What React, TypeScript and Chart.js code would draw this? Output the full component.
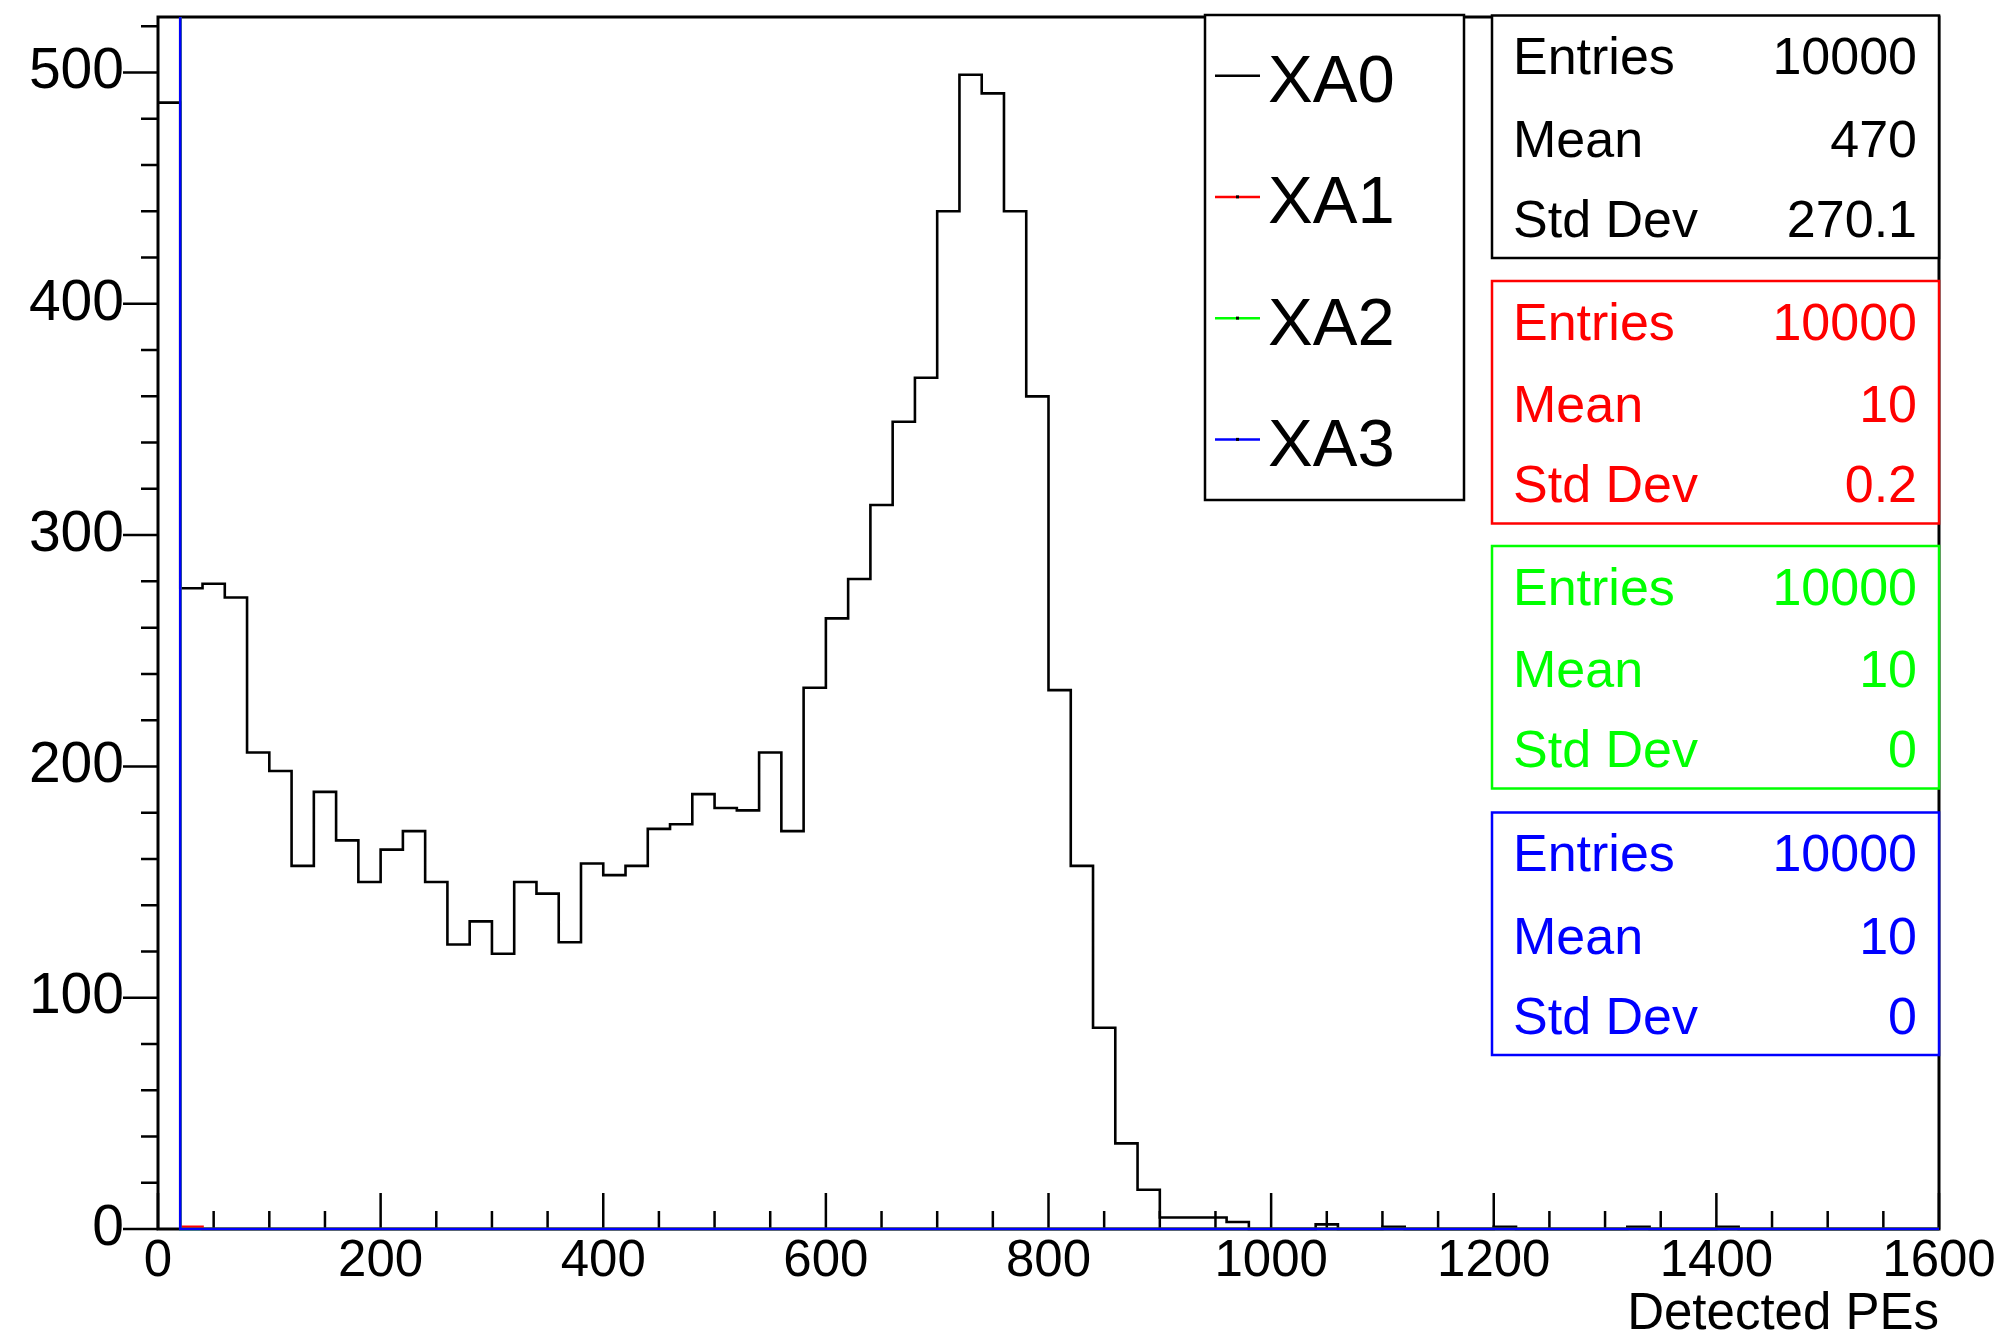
import React, { useEffect, useRef } from "react";
import { Chart, registerables } from "chart.js";

Chart.register(...registerables);

// ---- axis ranges / ticks ----
const X_MIN = 0;
const X_MAX = 1600;
const BIN_WIDTH = 20;
const Y_MIN = 0;
const Y_MAX = 524;
const X_MAJOR_STEP = 200;
const X_MINOR_STEP = 50;
const Y_MAJOR_STEP = 100;
const Y_MINOR_STEP = 20;
const X_TITLE = "Detected PEs";

// ---- series ----
const SERIES_NAMES = ["XA0", "XA1", "XA2", "XA3"];
const SERIES_COLORS = ["#000000", "#ff0000", "#00ff00", "#0000ff"];

// counts per 20-wide bin, from 0 to 1600 (80 bins)
const XA0_COUNTS = [
  487, 277, 279, 273, 206, 198, 157, 189, 168, 150,
  164, 172, 150, 123, 133, 119, 150, 145, 124, 158,
  153, 157, 173, 175, 188, 182, 181, 206, 172, 234,
  264, 281, 313, 349, 368, 440, 499, 491, 440, 360,
  233, 157, 87, 37, 17, 5, 5, 5, 3, 0,
  0, 0, 2, 0, 0, 1, 0, 0, 0, 0,
  1, 0, 0, 0, 0, 0, 1, 0, 0, 0,
  1, 0, 0, 0, 0, 0, 0, 0, 0, 0,
];
const XA1_COUNTS = [
  9999, 1, 0, 0, 0, 0, 0, 0, 0, 0,
  0, 0, 0, 0, 0, 0, 0, 0, 0, 0,
  0, 0, 0, 0, 0, 0, 0, 0, 0, 0,
  0, 0, 0, 0, 0, 0, 0, 0, 0, 0,
  0, 0, 0, 0, 0, 0, 0, 0, 0, 0,
  0, 0, 0, 0, 0, 0, 0, 0, 0, 0,
  0, 0, 0, 0, 0, 0, 0, 0, 0, 0,
  0, 0, 0, 0, 0, 0, 0, 0, 0, 0,
];
const XA2_COUNTS = [
  10000, 0, 0, 0, 0, 0, 0, 0, 0, 0,
  0, 0, 0, 0, 0, 0, 0, 0, 0, 0,
  0, 0, 0, 0, 0, 0, 0, 0, 0, 0,
  0, 0, 0, 0, 0, 0, 0, 0, 0, 0,
  0, 0, 0, 0, 0, 0, 0, 0, 0, 0,
  0, 0, 0, 0, 0, 0, 0, 0, 0, 0,
  0, 0, 0, 0, 0, 0, 0, 0, 0, 0,
  0, 0, 0, 0, 0, 0, 0, 0, 0, 0,
];
const XA3_COUNTS = [
  10000, 0, 0, 0, 0, 0, 0, 0, 0, 0,
  0, 0, 0, 0, 0, 0, 0, 0, 0, 0,
  0, 0, 0, 0, 0, 0, 0, 0, 0, 0,
  0, 0, 0, 0, 0, 0, 0, 0, 0, 0,
  0, 0, 0, 0, 0, 0, 0, 0, 0, 0,
  0, 0, 0, 0, 0, 0, 0, 0, 0, 0,
  0, 0, 0, 0, 0, 0, 0, 0, 0, 0,
  0, 0, 0, 0, 0, 0, 0, 0, 0, 0,
];

// ---- statistics boxes ----
const STAT_LABELS = ["Entries", "Mean", "Std Dev"];
const XA0_STATS = ["10000", "470", "270.1"];
const XA1_STATS = ["10000", "10", "0.2"];
const XA2_STATS = ["10000", "10", "0"];
const XA3_STATS = ["10000", "10", "0"];

const FONT = '"Liberation Sans", Arial, Helvetica, sans-serif';

function histPoints(counts: number[]) {
  const pts = counts.map((c, i) => ({ x: X_MIN + i * BIN_WIDTH, y: c }));
  pts.push({ x: X_MAX, y: counts[counts.length - 1] });
  return pts;
}

const frameAndTicks = {
  id: "rootFrame",
  beforeDatasetsDraw(chart: any) {
    const { ctx, chartArea: a } = chart;
    const xs = chart.scales.x;
    const ys = chart.scales.y;
    ctx.save();
    ctx.strokeStyle = "#000";
    ctx.lineWidth = 3;
    ctx.strokeRect(a.left, a.top, a.right - a.left, a.bottom - a.top);
    ctx.lineWidth = 2.5;
    ctx.beginPath();
    for (let v = X_MIN; v <= X_MAX; v += X_MINOR_STEP) {
      const px = xs.getPixelForValue(v);
      const len = v % X_MAJOR_STEP === 0 ? 36 : 18;
      ctx.moveTo(px, a.bottom);
      ctx.lineTo(px, a.bottom - len);
    }
    for (let v = Y_MIN; v <= Y_MAX; v += Y_MINOR_STEP) {
      const py = ys.getPixelForValue(v);
      const len = v % Y_MAJOR_STEP === 0 ? 35 : 17;
      ctx.moveTo(a.left, py);
      ctx.lineTo(a.left - len, py);
    }
    ctx.stroke();
    ctx.restore();
  },
  afterDraw(chart: any) {
    const { ctx } = chart;
    ctx.save();
    // legend
    const lg = { left: 1205, top: 15, right: 1464, bottom: 500 };
    ctx.fillStyle = "#fff";
    ctx.fillRect(lg.left, lg.top, lg.right - lg.left, lg.bottom - lg.top);
    ctx.strokeStyle = "#000";
    ctx.lineWidth = 2.5;
    ctx.strokeRect(lg.left, lg.top, lg.right - lg.left, lg.bottom - lg.top);
    const rowH = (lg.bottom - lg.top) / SERIES_NAMES.length;
    ctx.font = `67px ${FONT}`;
    ctx.textAlign = "left";
    ctx.textBaseline = "alphabetic";
    SERIES_NAMES.forEach((name, i) => {
      const cy = lg.top + rowH * (i + 0.5);
      ctx.strokeStyle = SERIES_COLORS[i];
      ctx.lineWidth = 2.5;
      ctx.beginPath();
      ctx.moveTo(1215, cy);
      ctx.lineTo(1260, cy);
      ctx.stroke();
      if (i > 0) {
        ctx.fillStyle = "#000";
        ctx.fillRect(1236, cy - 1.5, 3, 3);
      }
      ctx.fillStyle = "#000";
      ctx.fillText(name, 1268, cy + 26.5);
    });
    // stats boxes
    const allStats = [XA0_STATS, XA1_STATS, XA2_STATS, XA3_STATS];
    const boxTops = [15.5, 281, 546, 812.5];
    const boxH = 242.5;
    const boxL = 1492;
    const boxR = chart.chartArea.right;
    const baseOffsets = [58.5, 141, 221];
    allStats.forEach((stats, i) => {
      const t = boxTops[i];
      ctx.fillStyle = "#fff";
      ctx.fillRect(boxL, t, boxR - boxL, boxH);
      ctx.strokeStyle = SERIES_COLORS[i];
      ctx.lineWidth = 2.5;
      ctx.strokeRect(boxL, t, boxR - boxL, boxH);
      ctx.fillStyle = SERIES_COLORS[i];
      ctx.font = `52px ${FONT}`;
      STAT_LABELS.forEach((lab, j) => {
        ctx.textAlign = "left";
        ctx.fillText(lab, 1513, t + baseOffsets[j]);
        ctx.textAlign = "right";
        ctx.fillText(stats[j], 1917, t + baseOffsets[j]);
      });
    });
    ctx.restore();
  },
};

export default function App() {
  const ref = useRef<HTMLCanvasElement>(null);
  useEffect(() => {
    const canvas = ref.current;
    if (!canvas) return;
    const countsList = [XA0_COUNTS, XA1_COUNTS, XA2_COUNTS, XA3_COUNTS];
    const datasets = countsList.map((counts, i) => ({
      label: SERIES_NAMES[i],
      data: histPoints(counts),
      borderColor: SERIES_COLORS[i],
      backgroundColor: SERIES_COLORS[i],
      borderWidth: 2.6,
      pointRadius: 0,
      fill: false,
      tension: 0,
      stepped: true,
      order: SERIES_NAMES.length - 1 - i,
      clip: { left: 2, top: 0, right: 2, bottom: 3 },
    }));
    const chart = new Chart(canvas, {
      type: "line",
      data: { datasets } as any,
      options: {
        responsive: false,
        devicePixelRatio: 1,
        animation: false,
        events: [],
        layout: { padding: { left: 0, top: 17, right: 2003 - 1939, bottom: 0 } },
        plugins: { legend: { display: false }, tooltip: { enabled: false } },
        scales: {
          x: {
            type: "linear",
            min: X_MIN,
            max: X_MAX,
            grid: { display: false, drawTicks: false },
            border: { display: false },
            ticks: {
              stepSize: X_MAJOR_STEP,
              autoSkip: false,
              maxRotation: 0,
              includeBounds: false,
              padding: 2,
              color: "#000",
              font: { family: FONT, size: 51 },
              callback: (v: any) => String(v),
            },
            title: {
              display: true,
              text: X_TITLE,
              align: "end",
              color: "#000",
              font: { family: FONT, size: 51, lineHeight: 1 },
              padding: { top: 0, bottom: 3 },
            },
            afterFit: (s: any) => {
              s.height = 1343 - 1229;
              s.paddingLeft = 0;
              s.paddingRight = 0;
            },
          },
          y: {
            type: "linear",
            min: Y_MIN,
            max: Y_MAX,
            grid: { display: false, drawTicks: false },
            border: { display: false },
            ticks: {
              stepSize: Y_MAJOR_STEP,
              includeBounds: false,
              padding: 34,
              color: "#000",
              font: { family: FONT, size: 57 },
              callback: (v: any) => String(v),
            },
            afterFit: (s: any) => {
              s.width = 158;
              s.paddingTop = 0;
              s.paddingBottom = 0;
            },
          },
        },
      } as any,
      plugins: [frameAndTicks],
    });
    return () => chart.destroy();
  }, []);
  return (
    <div style={{ position: "fixed", left: 0, top: 0, width: 2003, height: 1343, background: "#fff" }}>
      <canvas ref={ref} width={2003} height={1343} style={{ display: "block", width: 2003, height: 1343 }} />
    </div>
  );
}
